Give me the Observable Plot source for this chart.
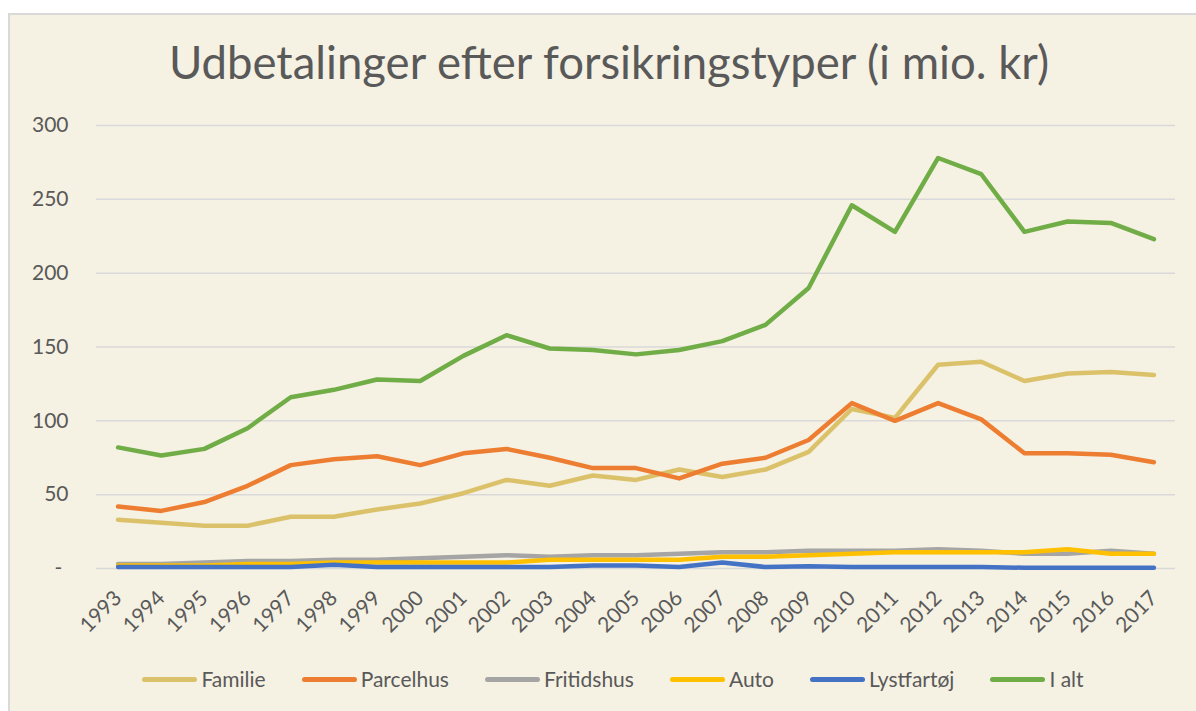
<!DOCTYPE html>
<html>
<head>
<meta charset="utf-8">
<script src="https://cdn.jsdelivr.net/npm/d3@7"></script>
<script src="https://cdn.jsdelivr.net/npm/@observablehq/plot@0.6"></script>
<style>
  html, body { margin: 0; padding: 0; background: #ffffff; }
  body { width: 1196px; height: 711px; position: relative; overflow: hidden; font-family: Lato, "Open Sans", sans-serif; }
  #panel { position: absolute; left: 8px; top: 13px; width: 1188px; height: 698px; background: #F5F1E3; border-left: 2px solid #D9D9D9; border-top: 2px solid #D9D9D9; box-sizing: border-box; }
  #title { position: absolute; left: 0; top: 35px; width: 1218px; text-align: center; font-size: 45.5px; line-height: 54px; color: #595959; font-weight: 400; }
  #chart { position: absolute; left: 0; top: 105px; }
  #legend { position: absolute; left: 0; top: 665px; width: 1226px; display: flex; justify-content: center; gap: 36px; font-size: 21px; color: #595959; line-height: 28px; }
  .item { display: flex; align-items: center; gap: 4px; }
  .sw { width: 55px; height: 5px; border-radius: 3px; }
</style>
</head>
<body>
<div id="panel"></div>
<div id="title">Udbetalinger efter forsikringstyper (i mio. kr)</div>
<div id="chart"></div>
<div id="legend"></div>
<script>
const years = [1993,1994,1995,1996,1997,1998,1999,2000,2001,2002,2003,2004,2005,2006,2007,2008,2009,2010,2011,2012,2013,2014,2015,2016,2017];
const seriesNames = ["Familie","Parcelhus","Fritidshus","Auto","Lystfartøj","I alt"];
const seriesColors = ["#DBC26A","#ED7D31","#A5A5A5","#FFC000","#4472C4","#70AD47"];
const familie    = [33,31,29,29,35,35,40,44,51,60,56,63,60,67,62,67,79,108,102,138,140,127,132,133,131];
const parcelhus  = [42,39,45,56,70,74,76,70,78,81,75,68,68,61,71,75,87,112,100,112,101,78,78,77,72];
const fritidshus = [3,3,4,5,5,6,6,7,8,9,8,9,9,10,11,11,12,12,12,13,12,10,10,12,10];
const auto       = [2,2,2,3,3,4,4,4,4,4,6,6,6,6,8,8,9,10,11,11,11,11,13,10,10];
const lystfartoej= [1,1,1,1,1,2.5,1,1,1,1,1,2,2,1,4,1,1.5,1,1,1,1,0.5,0.5,0.5,0.5];
const ialt       = [82,76.5,81,95,116,121,128,127,144,158,149,148,145,148,154,165,190,246,228,278,267,228,235,234,223];
const yTicks = [0,50,100,150,200,250,300];

const values = [familie, parcelhus, fritidshus, auto, lystfartoej, ialt];
const rows = [];
seriesNames.forEach((name, i) => {
  years.forEach((yr, j) => rows.push({series: name, year: yr, value: values[i][j]}));
});

const font = "Lato, 'Open Sans', sans-serif";
const chart = Plot.plot({
  width: 1196,
  height: 545,
  marginTop: 20,
  marginBottom: 82,
  marginLeft: 96,
  marginRight: 21,
  style: { background: "transparent", fontFamily: font, fontSize: "21px", color: "#595959" },
  x: { type: "linear", domain: [1992.5, 2017.5], label: null },
  y: { domain: [0, 300], label: null },
  color: { domain: seriesNames, range: seriesColors },
  marks: [
    Plot.ruleY(yTicks, { stroke: "#D9D9D9", strokeWidth: 1.5 }),
    Plot.axisY({ ticks: yTicks, tickSize: 0, tickPadding: 28, tickFormat: d => d === 0 ? "" : String(d), fontSize: 21, fill: "#595959" }),
    Plot.text([0], { y: d => d, frameAnchor: "left", dx: -42, text: () => "-", fontSize: 21, fill: "#595959" }),
    Plot.axisX({ ticks: years, tickSize: 0, tickPadding: 26, tickRotate: -45, tickFormat: d => String(d), fontSize: 21, fill: "#595959" }),
    ...seriesNames.map(name => Plot.line(rows.filter(r => r.series === name), {
      x: "year", y: "value", stroke: "series", strokeWidth: 4.5, strokeLinecap: "round", strokeLinejoin: "round"
    }))
  ]
});
document.getElementById("chart").appendChild(chart);

const legend = document.getElementById("legend");
seriesNames.forEach((name, i) => {
  const it = document.createElement("div");
  it.className = "item";
  const sw = document.createElement("div");
  sw.className = "sw";
  sw.style.background = seriesColors[i];
  const lab = document.createElement("span");
  lab.textContent = name;
  it.appendChild(sw); it.appendChild(lab);
  legend.appendChild(it);
});
</script>
</body>
</html>
